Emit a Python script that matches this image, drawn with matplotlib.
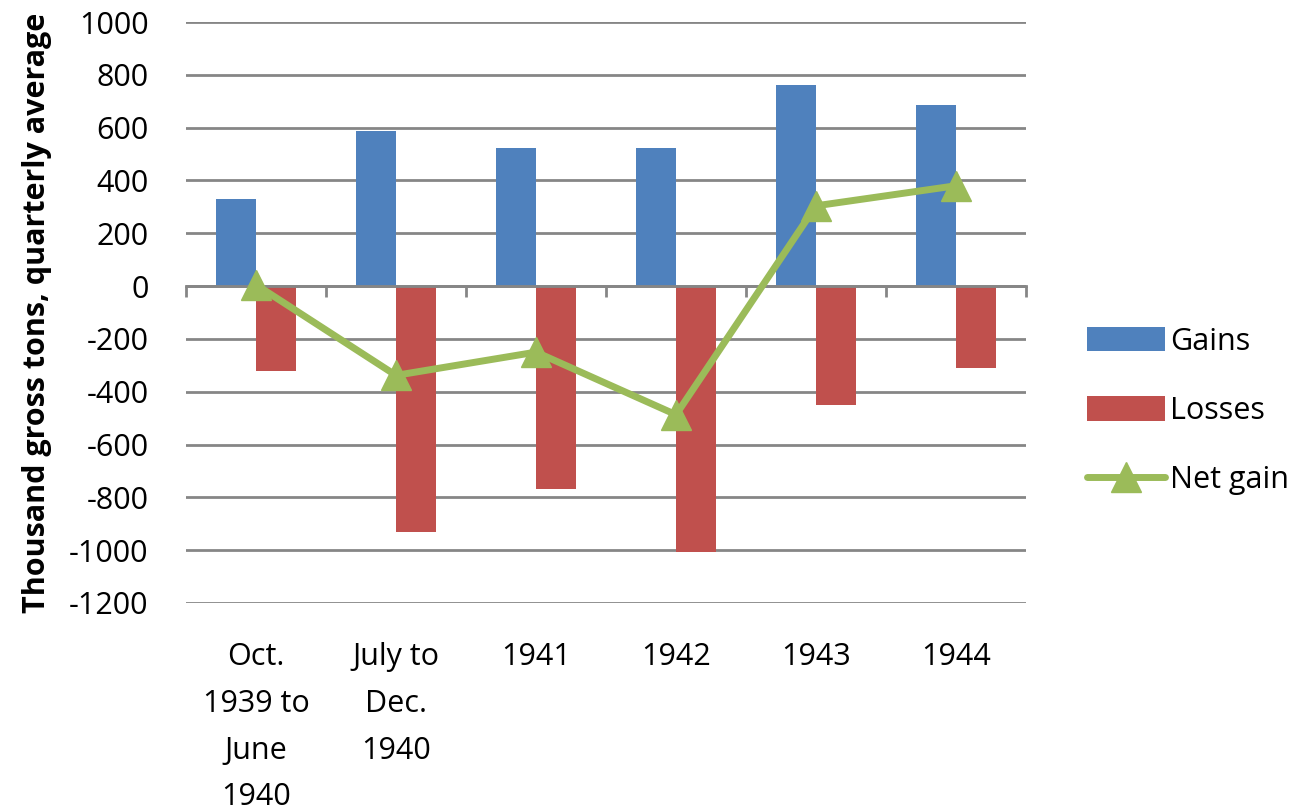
import matplotlib.pyplot as plt
import matplotlib.transforms as mtransforms
from matplotlib.lines import Line2D
from matplotlib.patches import Patch
import numpy as np

# Merchant tonnage, thousand gross tons (quarterly average)
categories = ["Oct.\n1939 to\nJune\n1940", "July to\nDec.\n1940", "1941", "1942", "1943", "1944"]
gains = [328, 587, 522, 522, 763, 687]
losses = [-321, -930, -767, -1005, -452, -311]
net_gain = [5, -338, -250, -487, 304, 380]

blue = "#4F81BD"
red = "#C0504D"
green = "#9BBB59"
grid_gray = "#868686"

plt.rcParams["font.family"] = ["Open Sans", "DejaVu Sans"]
plt.rcParams["axes.unicode_minus"] = False
fs = 22

fig = plt.figure(figsize=(12.96, 8.1), dpi=100)
ax = fig.add_axes([186 / 1296, 1 - 603 / 810, 840 / 1296, 581 / 810])

x = np.arange(len(categories))
width = 0.2875

ax.bar(x - width / 2, gains, width=width, color=blue, zorder=2)
ax.bar(x + width / 2, losses, width=width, color=red, zorder=2)
ax.plot(x, net_gain, color=green, linewidth=5, marker="^", markersize=22,
        solid_capstyle="round", zorder=3)

ax.set_xlim(-0.5, len(categories) - 0.5)
ax.set_ylim(-1200, 1000)
ax.set_yticks(np.arange(-1200, 1001, 200))
ax.tick_params(axis="y", length=0, pad=27, labelsize=fs)
ax.yaxis.grid(True, color=grid_gray, linewidth=2)
ax.set_axisbelow(True)

# Category axis sits on the zero line, with tick marks between groups
for side in ["left", "right", "top"]:
    ax.spines[side].set_visible(False)
ax.spines["bottom"].set_position(("data", 0))
ax.spines["bottom"].set_color(grid_gray)
ax.spines["bottom"].set_linewidth(2)
ax.set_xticks(np.arange(-0.5, len(categories), 1.0))
ax.set_xticklabels([])
ax.tick_params(axis="x", direction="out", length=8, width=2, color=grid_gray)

# Category labels below the plot area
trans = mtransforms.blended_transform_factory(ax.transData, ax.transAxes)
for xi, label in zip(x, categories):
    ax.text(xi, -0.067, label, transform=trans, ha="center", va="top",
            fontsize=fs, linespacing=1.73)

ax.set_ylabel("Thousand gross tons, quarterly average", fontsize=fs,
              fontweight="bold", labelpad=12)

handles = [
    Patch(facecolor=blue, label="Gains"),
    Patch(facecolor=red, label="Losses"),
    Line2D([0], [0], color=green, linewidth=5, marker="^", markersize=22,
           solid_capstyle="round", label="Net gain"),
]
fig.legend(handles=handles, loc="center left", bbox_to_anchor=(1075 / 1296, 1 - 411 / 810),
           frameon=False, fontsize=fs, handlelength=2.55, handleheight=0.85,
           handletextpad=0.15, labelspacing=1.28, borderaxespad=0)

fig.savefig("out.png", dpi=100)
